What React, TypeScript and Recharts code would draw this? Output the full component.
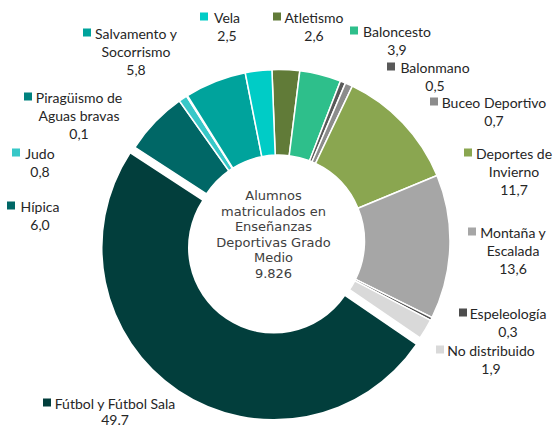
import { PieChart, Pie, Cell, Label } from 'recharts';

// order clockwise from 12 o'clock
const sports = [
  'Atletismo', 'Baloncesto', 'Balonmano', 'Buceo Deportivo', 'Deportes de Invierno',
  'Montaña y Escalada', 'Espeleología', 'No distribuido', 'Fútbol y Fútbol Sala',
  'Hípica', 'Judo', 'Piragüismo de Aguas bravas', 'Salvamento y Socorrismo', 'Vela',
];
const shares = [2.6, 3.9, 0.5, 0.7, 11.7, 13.6, 0.3, 1.9, 49.7, 6.0, 0.8, 0.1, 5.8, 2.5];
const shareLabels = ['2,6', '3,9', '0,5', '0,7', '11,7', '13,6', '0,3', '1,9', '49.7', '6,0', '0,8', '0,1', '5,8', '2,5'];
const nameLines = [
  ['Atletismo'], ['Baloncesto'], ['Balonmano'], ['Buceo Deportivo'], ['Deportes de', 'Invierno'],
  ['Montaña y', 'Escalada'], ['Espeleología'], ['No distribuido'], ['Fútbol y Fútbol Sala'],
  ['Hípica'], ['Judo'], ['Piragüismo de', 'Aguas bravas'], ['Salvamento y', 'Socorrismo'], ['Vela'],
];
const centerLines = ['Alumnos', 'matriculados en', 'Enseñanzas', 'Deportivas Grado', 'Medio', '9.826'];

const colors = [
  '#617B38', '#2EBF8B', '#595959', '#8C8C8C', '#8AA650',
  '#A6A6A6', '#4D4D4D', '#D9D9D9', '#023E3C',
  '#006766', '#37C8C8', '#00827E', '#00A39C', '#00CCC6',
];

const data = sports.map((name, i) => ({ name, value: shares[i] }));
const FOOTBALL = 8;

// label placement: text centre x, first line y, marker left x
const labelPos = [
  [314, 17, 273], [397, 31, 350], [435, 67, 387], [494, 102, 430], [514, 153, 464],
  [513, 232, 468], [508, 313, 459], [491, 350, 436], [115, 403, 43],
  [40, 206, 7], [40, 153, 12], [79, 97, 24], [136, 33, 83], [227, 17, 200],
];

const CX = 273.5;
const CY = 236;

function renderLabel(props: any) {
  const i = props.index;
  const [x, y, mx] = labelPos[i];
  const lines = [...nameLines[i], shareLabels[i]];
  const step = i === FOOTBALL ? 16 : 18;
  return (
    <g key={`lbl-${i}`}>
      <rect x={mx} y={y - 4.5} width={8} height={8} fill={colors[i]} />
      {lines.map((t, k) => (
        <text
          key={k}
          x={x}
          y={y + k * step}
          textAnchor="middle"
          dominantBaseline="central"
          fontFamily="Lato, sans-serif"
          fontSize={14}
          fill="#262626"
        >
          {t}
        </text>
      ))}
    </g>
  );
}

function CenterText() {
  return (
    <text
      x={CX}
      y={CY - 41}
      textAnchor="middle"
      dominantBaseline="central"
      fontFamily="'DejaVu Sans', sans-serif"
      fontSize={13}
      fill="#404040"
    >
      {centerLines.map((t, k) => (
        <tspan key={k} x={CX} dy={k === 0 ? 0 : 15.6}>
          {t}
        </tspan>
      ))}
    </text>
  );
}

export default function App() {
  return (
    <div style={{ position: 'absolute', left: 0, top: 0, background: '#fff' }}>
      <PieChart width={554} height={428}>
        <Pie
          data={data}
          dataKey="value"
          cx={CX}
          cy={CY}
          innerRadius={86}
          outerRadius={171.5}
          startAngle={92.2}
          endAngle={-267.8}
          stroke="#fff"
          strokeWidth={1.5}
          label={renderLabel}
          labelLine={false}
          isAnimationActive={false}
        >
          {data.map((d, i) => (
            <Cell
              key={d.name}
              fill={i === FOOTBALL ? 'transparent' : colors[i]}
              stroke={i === FOOTBALL ? 'none' : '#fff'}
            />
          ))}
          <Label content={CenterText} position="center" />
        </Pie>
        {/* exploded football slice */}
        <Pie
          data={data}
          dataKey="value"
          cx={CX - 4.5}
          cy={CY + 6.6}
          innerRadius={86}
          outerRadius={171.5}
          startAngle={92.2}
          endAngle={-267.8}
          stroke="none"
          isAnimationActive={false}
        >
          {data.map((d, i) => (
            <Cell key={d.name} fill={i === FOOTBALL ? colors[i] : 'transparent'} />
          ))}
        </Pie>
      </PieChart>
    </div>
  );
}
